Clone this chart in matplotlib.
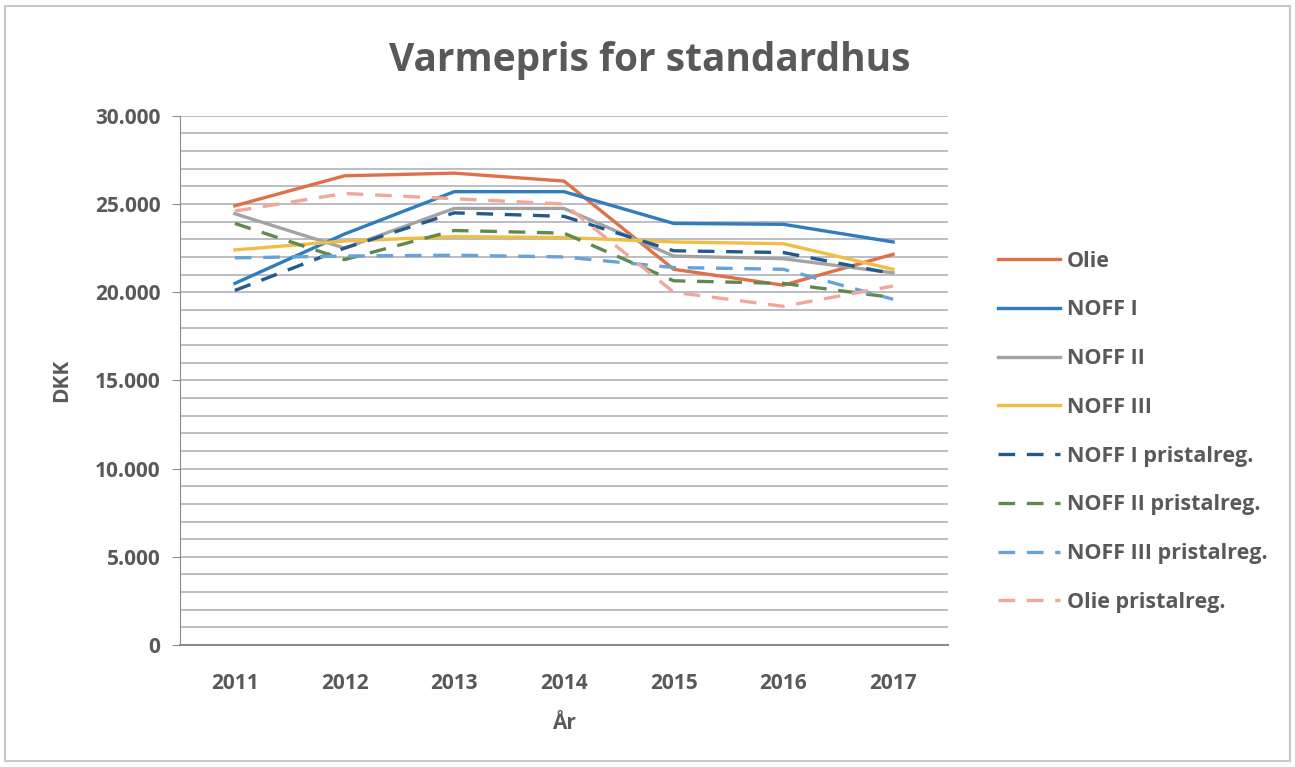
import matplotlib
matplotlib.use("Agg")
import matplotlib.pyplot as plt
from matplotlib.patches import Rectangle
from matplotlib.ticker import FuncFormatter, MultipleLocator

# data
years = [2011, 2012, 2013, 2014, 2015, 2016, 2017]
olie = [24900, 26600, 26750, 26300, 21300, 20400, 22150]
noff1 = [20500, 23300, 25700, 25700, 23900, 23850, 22850]
noff2 = [24450, 22500, 24750, 24750, 22050, 21900, 21100]
noff3 = [22400, 22900, 23150, 23100, 22850, 22750, 21300]
noff1_reg = [20100, 22500, 24500, 24300, 22350, 22250, 21050]
noff2_reg = [23900, 21850, 23500, 23350, 20650, 20500, 19700]
noff3_reg = [21950, 22050, 22100, 22000, 21400, 21300, 19600]
olie_reg = [24600, 25600, 25300, 25000, 20000, 19200, 20350]

series = [
    ("Olie", olie, "#e0704a", "-"),
    ("NOFF I", noff1, "#2f7cbf", "-"),
    ("NOFF II", noff2, "#a3a3a3", "-"),
    ("NOFF III", noff3, "#f0bd45", "-"),
    ("NOFF I pristalreg.", noff1_reg, "#23598c", "--"),
    ("NOFF II pristalreg.", noff2_reg, "#5f8a4c", "--"),
    ("NOFF III pristalreg.", noff3_reg, "#66a3d8", "--"),
    ("Olie pristalreg.", olie_reg, "#f2a79c", "--"),
]

TXT = "#595959"
FONT = ["Open Sans", "DejaVu Sans"]
plt.rcParams["font.family"] = FONT

fig = plt.figure(figsize=(12.95, 7.67), dpi=100)
fig.patch.set_facecolor("white")
ax = fig.add_axes([0.139, 0.159, 0.593, 0.69])

x = list(range(len(years)))
for name, vals, col, ls in series:
    if ls == "--":
        ax.plot(x, vals, color=col, lw=2.4, ls=(0, (5, 3.5)), label=name)
    else:
        ax.plot(x, vals, color=col, lw=2.4, label=name)

ax.set_xlim(-0.5, len(years) - 0.5)
ax.set_ylim(0, 30000)
ax.yaxis.set_major_locator(MultipleLocator(5000))
ax.yaxis.set_minor_locator(MultipleLocator(1000))
ax.yaxis.set_major_formatter(FuncFormatter(lambda v, p: f"{int(v):,}".replace(",", ".")))
ax.grid(True, which="both", axis="y", color="#b8b8c0", lw=1.3)
ax.set_axisbelow(True)

ax.set_xticks(x)
ax.set_xticklabels([str(y) for y in years])
ax.tick_params(axis="x", length=0, pad=20, labelsize=15, labelcolor=TXT)
ax.tick_params(axis="y", which="major", length=6, color="#8c8c8c", pad=8,
               labelsize=15, labelcolor=TXT)
ax.tick_params(axis="y", which="minor", length=0)
for lab in ax.get_xticklabels() + ax.get_yticklabels():
    lab.set_fontweight("bold")

for s in ["top", "right"]:
    ax.spines[s].set_visible(False)
ax.spines["left"].set_color("#8c8c8c")
ax.spines["bottom"].set_color("#8c8c8c")
ax.spines["bottom"].set_linewidth(1.5)

ax.set_ylabel("DKK", fontsize=15, fontweight="bold", color=TXT, labelpad=16)
ax.set_xlabel("År", fontsize=15, fontweight="bold", color=TXT, labelpad=14)

fig.text(0.502, 0.921, "Varmepris for standardhus", ha="center", va="center",
         fontsize=28, fontweight="bold", color=TXT)

leg = ax.legend(loc="upper left", bbox_to_anchor=(1.04, 0.782), frameon=False,
                fontsize=15.5, labelcolor=TXT, handlelength=2.9,
                labelspacing=1.29, handletextpad=0.3)
for t in leg.get_texts():
    t.set_fontweight("bold")

fig.patches.append(Rectangle((0.004, 0.008), 0.992, 0.984, transform=fig.transFigure,
                             fill=False, ec="#c8c8c8", lw=1.5))

fig.savefig("out.png", dpi=100, facecolor="white")
